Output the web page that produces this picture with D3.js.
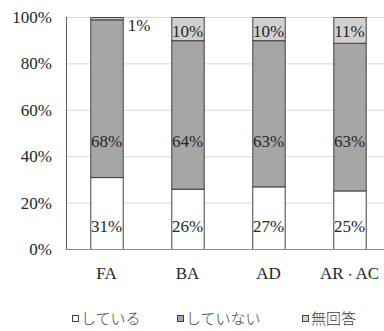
<!DOCTYPE html>
<html>
<head>
<meta charset="utf-8">
<script src="https://cdn.jsdelivr.net/npm/d3@7"></script>
<style>
  body { margin: 0; background: #fff; }
  svg { display: block; }
</style>
</head>
<body>
<svg></svg>
<script>
///////////////////////////////////////////
// Data
var categories = ["FA", "BA", "AD", "AR・AC"];
var seriesNames = ["している", "していない", "無回答"];
var doing    = [31, 26, 27, 25];
var notDoing = [68, 64, 63, 63];
var noAnswer = [1, 10, 10, 11];
var yTicks = [0, 0.2, 0.4, 0.6, 0.8, 1];

///////////////////////////////////////////
// Layout
var svgWidth = 384, svgHeight = 331;
var margin = {top: 17, left: 66, bottom: 82},
    plotBottom = svgHeight - margin.bottom,
    plotRight = 390;

var fills = ["#ffffff", "#a6a6a6", "#d0d0d0"];
var serif = "'Liberation Serif', 'Times New Roman', serif";

var svg = d3.select("svg").attr("width", svgWidth).attr("height", svgHeight);

var rows = categories.map(function(c, i) {
  return {cat: c, s0: doing[i], s1: notDoing[i], s2: noAnswer[i]};
});
var stacked = d3.stack().keys(["s0", "s1", "s2"]).offset(d3.stackOffsetExpand)(rows);

var x = d3.scaleBand().domain(categories).range([margin.left, plotRight])
  .paddingInner(0.6).paddingOuter(0.3);
var y = d3.scaleLinear().domain([0, 1]).range([plotBottom, margin.top]);

// gridlines
svg.append("g").selectAll("line").data(yTicks.slice(1)).join("line")
  .attr("x1", margin.left).attr("x2", plotRight)
  .attr("y1", function(d){ return y(d) + 0.5; })
  .attr("y2", function(d){ return y(d) + 0.5; })
  .attr("stroke", "#d9d9d9").attr("stroke-width", 1);

// y tick labels
svg.append("g").selectAll("text").data(yTicks).join("text")
  .attr("x", 52).attr("y", function(d){ return y(d); })
  .attr("dy", "0.35em").attr("text-anchor", "end")
  .style("font-family", serif).style("font-size", "17px").attr("fill", "#262626")
  .text(d3.format(".0%"));

// bars
var layers = svg.append("g").selectAll("g").data(stacked).join("g")
  .attr("fill", function(d, i){ return fills[i]; });
layers.selectAll("rect").data(function(d){ return d; }).join("rect")
  .attr("x", function(d){ return x(d.data.cat) + 0.5; })
  .attr("width", x.bandwidth())
  .attr("y", function(d){ return y(d[1]) + 0.5; })
  .attr("height", function(d){ return y(d[0]) - y(d[1]); })
  .attr("stroke", "#404040").attr("stroke-width", 1);

// axes lines
svg.append("line").attr("x1", margin.left + 0.5).attr("x2", margin.left + 0.5)
  .attr("y1", margin.top).attr("y2", plotBottom)
  .attr("stroke", "#595959");
svg.append("line").attr("x1", margin.left).attr("x2", plotRight)
  .attr("y1", plotBottom + 0.5).attr("y2", plotBottom + 0.5)
  .attr("stroke", "#8c8c8c");

// data labels
var labelLevel = [0.10, 0.465, 0.94];
var values = [doing, notDoing, noAnswer];
values.forEach(function(vals, s) {
  svg.append("g").selectAll("text").data(vals).join("text")
    .attr("x", function(d, i){
      var cx = x(categories[i]) + x.bandwidth() / 2;
      return (s === 2 && d < 5) ? x(categories[i]) + x.bandwidth() + 5 : cx;
    })
    .attr("y", function(d, i){ return (s === 2 && d < 5) ? y(0.965) : y(labelLevel[s]); })
    .attr("dy", "0.35em")
    .attr("text-anchor", function(d){ return (s === 2 && d < 5) ? "start" : "middle"; })
    .style("font-family", serif).style("font-size", "17px").attr("fill", "#262626")
    .text(function(d){ return d + "%"; });
});

// category labels (the ・ is set smaller, so it stays narrow as in the original)
var catText = svg.append("g").selectAll("text").data(categories).join("text")
  .attr("x", function(d){ return x(d) + x.bandwidth() / 2; })
  .attr("y", 273).attr("dy", "0.35em").attr("text-anchor", "middle")
  .style("font-family", serif).style("font-size", "17px").attr("fill", "#262626");
catText.each(function(d) {
  var parts = d.split("・");
  var t = d3.select(this);
  parts.forEach(function(p, j) {
    if (j > 0) t.append("tspan").style("font-size", "12px").text("・");
    t.append("tspan").text(p);
  });
});

// legend
var legendX = [72, 177, 302];
var legend = svg.append("g").selectAll("g").data(seriesNames).join("g")
  .attr("transform", function(d, i){ return "translate(" + legendX[i] + ",319)"; });
legend.append("rect").attr("x", 0.5).attr("y", -3.5).attr("width", 6).attr("height", 6)
  .attr("fill", function(d, i){ return fills[i]; })
  .attr("stroke", "#404040").attr("stroke-width", 1);
legend.append("text").attr("x", 9).attr("dy", "0.35em")
  .style("font-family", "'Noto Sans CJK JP', sans-serif").style("font-size", "15px")
  .style("font-weight", 300).attr("fill", "#404040")
  .text(function(d){ return d; });
</script>
</body>
</html>
